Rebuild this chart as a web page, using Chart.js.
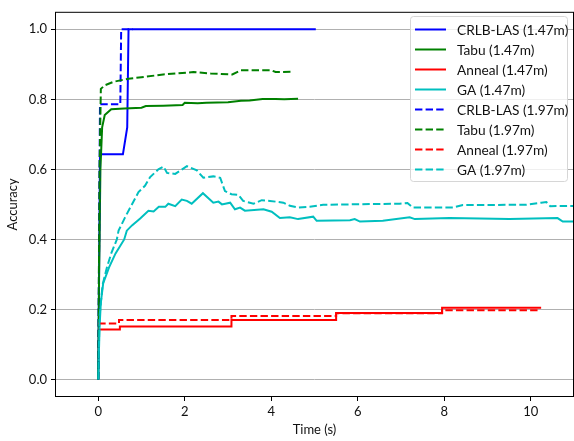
<!DOCTYPE html>
<html>
<head>
<meta charset="utf-8">
<script src="https://cdn.jsdelivr.net/npm/chart.js@4/dist/chart.umd.min.js"></script>
<style>
  body { margin: 0; background: #fff; }
  canvas { display: block; }
</style>
</head>
<body>
<canvas id="myChart" width="574" height="441"></canvas>
<script>
// time (s) / accuracy pairs
const crlbT147 = [0, 0.04, 0.57, 0.67, 0.70, 5.03];
const crlbV147 = [0, 0.643, 0.643, 0.72, 1.0, 1.0];

const tabuT147 = [0, 0.02, 0.05, 0.09, 0.15, 0.3, 0.6, 1.0, 1.1, 1.5, 1.95, 2.0, 2.3, 2.5, 3.0, 3.3, 3.5, 3.8, 4.1, 4.3, 4.62];
const tabuV147 = [0, 0.3, 0.6, 0.72, 0.755, 0.772, 0.774, 0.776, 0.781, 0.782, 0.784, 0.79, 0.789, 0.79, 0.792, 0.796, 0.797, 0.801, 0.801, 0.8, 0.802];

const annealT147 = [0, 0.5, 3.08, 5.5, 7.95, 10.24];
const annealV147 = [0.143, 0.151, 0.17, 0.19, 0.205, 0.205];

const gaT147 = [0, 0.03, 0.06, 0.115, 0.25, 0.4, 0.6, 0.66, 0.78, 0.97, 1.16, 1.28, 1.4, 1.55, 1.62, 1.78, 1.93, 2.05, 2.16, 2.42, 2.66, 2.78, 2.86, 3.05, 3.16, 3.28, 3.39, 3.82, 4.01, 4.2, 4.43, 4.62, 4.97, 5.05, 5.82, 5.93, 6.05, 6.58, 7.2, 7.32, 8.12, 9.51, 10.62, 10.74, 11.2];
const gaV147 = [0, 0.15, 0.22, 0.275, 0.32, 0.36, 0.4, 0.425, 0.44, 0.46, 0.482, 0.48, 0.493, 0.493, 0.502, 0.495, 0.514, 0.51, 0.502, 0.532, 0.505, 0.508, 0.5, 0.505, 0.486, 0.491, 0.482, 0.486, 0.479, 0.461, 0.463, 0.458, 0.465, 0.453, 0.455, 0.458, 0.451, 0.453, 0.463, 0.458, 0.461, 0.458, 0.461, 0.451, 0.451];

const crlbT197 = [0, 0.04, 0.51, 0.53, 0.8];
const crlbV197 = [0, 0.786, 0.786, 1.0, 1.0];

const tabuT197 = [0, 0.03, 0.06, 0.15, 0.35, 0.7, 1.0, 1.5, 2.2, 2.6, 3.1, 3.3, 4.0, 4.1, 4.5];
const tabuV197 = [0, 0.6, 0.83, 0.84, 0.85, 0.859, 0.863, 0.871, 0.878, 0.874, 0.871, 0.883, 0.883, 0.878, 0.879];

const annealT197 = [0, 0.48, 3.08, 5.5, 7.95, 10.2];
const annealV197 = [0.16, 0.17, 0.181, 0.189, 0.198, 0.198];

const gaT197 = [0, 0.03, 0.1, 0.2, 0.3, 0.43, 0.47, 0.62, 0.74, 0.93, 1.08, 1.2, 1.39, 1.51, 1.59, 1.78, 2.05, 2.28, 2.43, 2.66, 2.82, 2.93, 3.08, 3.24, 3.35, 3.59, 3.78, 3.97, 4.28, 4.43, 4.63, 4.89, 5.2, 6.97, 7.15, 7.27, 8.2, 8.43, 9.89, 10.24, 10.36, 10.45, 11.2];
const gaV197 = [0, 0.18, 0.27, 0.32, 0.36, 0.4, 0.425, 0.463, 0.491, 0.535, 0.553, 0.578, 0.6, 0.608, 0.59, 0.587, 0.609, 0.597, 0.576, 0.58, 0.576, 0.538, 0.529, 0.527, 0.51, 0.502, 0.512, 0.51, 0.505, 0.496, 0.491, 0.493, 0.499, 0.502, 0.504, 0.491, 0.491, 0.498, 0.499, 0.505, 0.507, 0.495, 0.496];

const xTicks = [0, 2, 4, 6, 8, 10];
const yTicks = [0, 0.2, 0.4, 0.6, 0.8, 1.0];

const FONT = 'Lato, "Open Sans", sans-serif';
const DASH = [7.4, 3.2];

function pts(ts, vs) {
    return ts.map((t, i) => ({ x: t, y: vs[i] }));
}

function series(label, ts, vs, color, dashed, stepped, idx) {
    return {
        label: label,
        data: pts(ts, vs),
        borderColor: color,
        backgroundColor: color,
        borderWidth: 2,
        borderDash: dashed ? DASH : [],
        pointRadius: 0,
        tension: 0,
        stepped: stepped ? 'before' : false,
        fill: false,
        order: 10 - idx   // later series on top, like matplotlib
    };
}

const datasets = [
    series('CRLB-LAS (1.47m)', crlbT147, crlbV147, '#0000ff', false, false, 0),
    series('Tabu (1.47m)', tabuT147, tabuV147, '#008000', false, false, 1),
    series('Anneal (1.47m)', annealT147, annealV147, '#ff0000', false, true, 2),
    series('GA (1.47m)', gaT147, gaV147, '#00bfbf', false, false, 3),
    series('CRLB-LAS (1.97m)', crlbT197, crlbV197, '#0000ff', true, false, 4),
    series('Tabu (1.97m)', tabuT197, tabuV197, '#008000', true, false, 5),
    series('Anneal (1.97m)', annealT197, annealV197, '#ff0000', true, true, 6),
    series('GA (1.97m)', gaT197, gaV197, '#00bfbf', true, false, 7),
];

// frame + legend box inside the plot, matplotlib style
const boxPlugin = {
    id: 'boxPlugin',
    afterDraw(chart) {
        const ctx = chart.ctx;
        const a = chart.chartArea;
        ctx.save();
        ctx.strokeStyle = '#000';
        ctx.lineWidth = 1;
        ctx.setLineDash([]);
        ctx.strokeRect(a.left + 0.5, a.top + 0.5, a.right - a.left - 1, a.bottom - a.top - 1);

        const bx = 410.5, by = 16.5, bw = 157, bh = 165, r = 3;
        ctx.beginPath();
        ctx.moveTo(bx + r, by);
        ctx.arcTo(bx + bw, by, bx + bw, by + bh, r);
        ctx.arcTo(bx + bw, by + bh, bx, by + bh, r);
        ctx.arcTo(bx, by + bh, bx, by, r);
        ctx.arcTo(bx, by, bx + bw, by, r);
        ctx.closePath();
        ctx.fillStyle = 'rgba(255,255,255,0.8)';
        ctx.fill();
        ctx.strokeStyle = '#d6d6d6';
        ctx.stroke();

        ctx.font = '13.7px ' + FONT;
        ctx.textBaseline = 'middle';
        chart.data.datasets.forEach((ds, i) => {
            const y = 29.5 + i * 20;
            ctx.beginPath();
            ctx.strokeStyle = ds.borderColor;
            ctx.lineWidth = 2;
            ctx.setLineDash(ds.borderDash);
            ctx.moveTo(415, y);
            ctx.lineTo(446, y);
            ctx.stroke();
            ctx.fillStyle = '#111';
            ctx.fillText(ds.label, 457, y + 1);
        });
        ctx.restore();
    }
};

const config = {
    type: 'line',
    data: { datasets: datasets },
    options: {
        responsive: false,
        animation: false,
        layout: { padding: { top: 9, right: 0, left: 0, bottom: 0 } },
        plugins: { legend: { display: false }, tooltip: { enabled: false } },
        scales: {
            x: {
                type: 'linear',
                min: -1,
                max: 11,
                afterBuildTicks: s => { s.ticks = xTicks.map(v => ({ value: v })); },
                afterFit: s => { s.height = 44; },
                grid: { drawOnChartArea: false, drawTicks: true, tickLength: 4, tickColor: '#000' },
                border: { display: false },
                ticks: { color: '#111', padding: 3, font: { family: FONT, size: 13 }, callback: v => String(v) },
                title: { display: true, text: 'Time (s)', color: '#111', font: { family: FONT, size: 13 }, padding: { top: 0, bottom: 3 } }
            },
            y: {
                min: -0.05,
                max: 1.05,
                afterBuildTicks: s => { s.ticks = yTicks.map(v => ({ value: v })); },
                afterFit: s => { s.width = 55; },
                grid: { color: '#b0b0b0', lineWidth: 1, tickLength: 4, tickColor: '#000' },
                border: { display: false },
                ticks: { color: '#111', padding: 4, font: { family: FONT, size: 13 }, callback: v => v.toFixed(1) },
                title: { display: true, text: 'Accuracy', color: '#111', font: { family: FONT, size: 13 }, padding: { top: 5, bottom: 0 } }
            }
        }
    },
    plugins: [boxPlugin]
};

const myChart = new Chart(document.getElementById('myChart'), config);
</script>
</body>
</html>
